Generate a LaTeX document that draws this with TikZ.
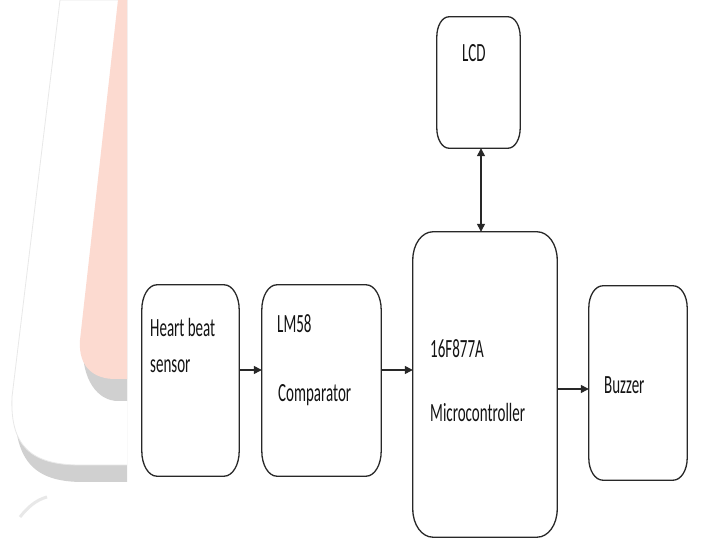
\documentclass[tikz,border=0pt]{standalone}
\usepackage{fontspec}
\setmainfont{Carlito}
\usetikzlibrary{calc,arrows.meta}
\definecolor{wmred}{RGB}{252,218,208}
\definecolor{wmshadow}{RGB}{208,208,208}
\definecolor{wmline}{RGB}{232,232,232}
\definecolor{boxline}{RGB}{40,40,40}
\newcommand{\myrbox}[3]{%
  \draw[outline] ($(#1.north west)+(#2,0)$) -- ($(#1.north east)+(-#2,0)$)
    arc[start angle=90,end angle=0,x radius=#2,y radius=#3]
    -- ($(#1.south east)+(0,#3)$)
    arc[start angle=0,end angle=-90,x radius=#2,y radius=#3]
    -- ($(#1.south west)+(#2,0)$)
    arc[start angle=270,end angle=180,x radius=#2,y radius=#3]
    -- ($(#1.north west)+(0,-#3)$)
    arc[start angle=180,end angle=90,x radius=#2,y radius=#3] -- cycle;}
\newcommand{\tallt}[1]{\scalebox{1}[1.75]{#1}}
\tikzset{
  blk/.style={rectangle, draw=none, inner sep=0pt},
  outline/.style={draw=boxline, line width=1.3pt},
  lbl/.style={anchor=base west, inner sep=0pt, font=\fontsize{15}{15}\selectfont, text=black!92},
  conn/.style={draw=boxline, line width=1.3pt, -{Triangle[length=8pt,width=8pt]}},
  dconn/.style={draw=boxline, line width=1.3pt, {Triangle[length=8pt,width=8pt]}-{Triangle[length=8pt,width=8pt]}}
}
\begin{document}
\begin{tikzpicture}[x=1pt,y=1pt]
\useasboundingbox (0,0) rectangle (705,540);
\fill[white] (0,0) rectangle (705,540);
% watermark
\begin{scope}
\clip (0,0) rectangle (127,540);
\fill[wmshadow] (63,540) -- (15,140) .. controls (13,80) and (33,58) .. (83,58) -- (130,58) -- (130,540) -- cycle;
\filldraw[fill=white, draw=wmline, line width=0.8pt] (60,540) -- (12,143) .. controls (10,95) and (30,75) .. (80,75) -- (130,75) -- (130,540) -- cycle;
\fill[wmshadow] (121,540) -- (83,197) .. controls (81,160) and (98,139) .. (118,139) -- (130,139) -- (130,540) -- cycle;
\fill[wmred] (118,540) -- (80,200) .. controls (78,172) and (95,161) .. (115,161) -- (130,161) -- (130,540) -- cycle;
\draw[wmline, line width=3pt] (20,23) .. controls (28,33) and (36,40) .. (47,43);
\end{scope}
% blocks
\node[blk, minimum width=97pt, minimum height=191pt] (heart) at (190.5,159.5) {};
\node[blk, minimum width=119pt, minimum height=191pt] (lm) at (321.5,159.5) {};
\node[blk, minimum width=144pt, minimum height=305pt] (micro) at (485,155.5) {};
\node[blk, minimum width=83pt, minimum height=131pt] (lcd) at (478.5,457.5) {};
\node[blk, minimum width=98pt, minimum height=194pt] (buzz) at (638,157) {};
\myrbox{heart}{15}{25}
\myrbox{lm}{15}{25}
\myrbox{micro}{20}{28}
\myrbox{lcd}{12}{20}
\myrbox{buzz}{14}{22}
% connectors
\coordinate (ya) at (0,170);
\coordinate (yb) at (0,151);
\coordinate (xd) at (481,0);
\draw[conn] (heart.east |- ya) -- (lm.west |- ya);
\draw[conn] (lm.east |- ya) -- (micro.west |- ya);
\draw[conn] (micro.east |- yb) -- (buzz.west |- yb);
\draw[dconn] (lcd.south -| xd) -- (micro.north -| xd);
% labels
\node[lbl] (t1) at (150,203) {\tallt{Heart beat}};
\node[lbl] (t2) at (150,167) {\tallt{sensor}};
\node[lbl] (t3) at (277,207) {\tallt{LM58}};
\node[lbl] (t4) at (278,138) {\tallt{Comparator}};
\node[lbl] (t5) at (430,182) {\tallt{16F877A}};
\node[lbl] (t6) at (430,118) {\tallt{Microcontroller}};
\node[lbl] (t7) at (604,146) {\tallt{Buzzer}};
\node[lbl] (t8) at (462,478) {\tallt{LCD}};
\end{tikzpicture}
\end{document}
